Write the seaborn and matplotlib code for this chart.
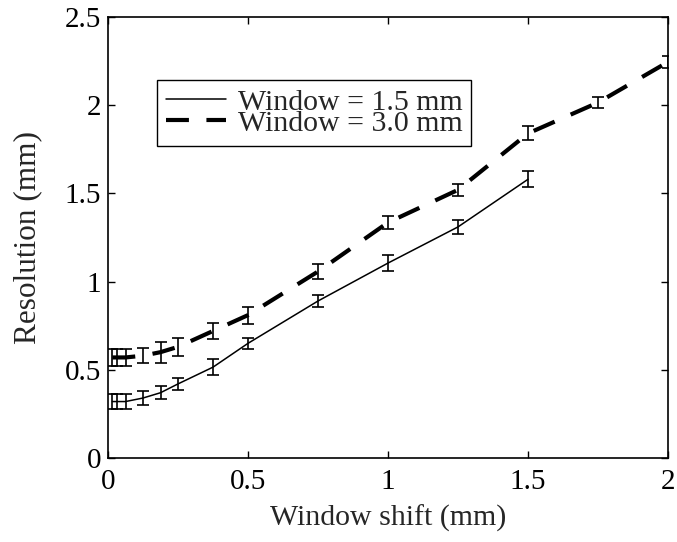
import numpy as np
import pandas as pd
import matplotlib
matplotlib.use('Agg')
import matplotlib.pyplot as plt
import seaborn as sns

sns.set_theme(style='ticks')
plt.rcParams['font.family'] = ['Liberation Serif', 'DejaVu Serif']

# window shift (mm)
shift_15 = [1/64, 1/32, 1/16, 0.125, 0.1875, 0.25, 0.375, 0.5, 0.75, 1.0, 1.25, 1.5]
shift_30 = [1/64, 1/32, 1/16, 0.125, 0.1875, 0.25, 0.375, 0.5, 0.75, 1.0, 1.25, 1.5, 1.75, 2.0]

# resolution (mm) and error
res_15 = [0.32, 0.32, 0.32, 0.34, 0.37, 0.42, 0.515, 0.65, 0.89, 1.105, 1.31, 1.58]
err_15 = [0.04, 0.04, 0.04, 0.04, 0.036, 0.036, 0.047, 0.03, 0.035, 0.045, 0.04, 0.045]
res_30 = [0.57, 0.57, 0.57, 0.58, 0.60, 0.63, 0.72, 0.81, 1.057, 1.335, 1.52, 1.84, 2.015, 2.245]
err_30 = [0.05, 0.05, 0.05, 0.044, 0.06, 0.05, 0.046, 0.048, 0.043, 0.039, 0.033, 0.04, 0.033, 0.034]

LABEL_15 = 'Window = 1.5 mm'
LABEL_30 = 'Window = 3.0 mm'

df15 = pd.DataFrame({'shift': shift_15, 'res': res_15, 'err': err_15})
df30 = pd.DataFrame({'shift': shift_30, 'res': res_30, 'err': err_30})

fig = plt.figure(figsize=(6.77, 5.42), dpi=100)
ax = fig.add_axes([108/677, 1 - 458/542, 560/677, 441/542])

sns.lineplot(data=df15, x='shift', y='res', ax=ax, color='black', linewidth=1.1,
             label=LABEL_15)
sns.lineplot(data=df30, x='shift', y='res', ax=ax, color='black', linewidth=3.0,
             linestyle=(0, (5.5, 4.2)), label=LABEL_30)

for d in (df15, df30):
    ax.errorbar(d['shift'], d['res'], yerr=d['err'], fmt='none', ecolor='black',
                elinewidth=1.2, capsize=4, capthick=1.2)

ax.set_xlim(0, 2)
ax.set_ylim(0, 2.5)
ax.set_xticks([0, 0.5, 1, 1.5, 2])
ax.set_xticklabels(['0', '0.5', '1', '1.5', '2'])
ax.set_yticks([0, 0.5, 1, 1.5, 2, 2.5])
ax.set_yticklabels(['0', '0.5', '1', '1.5', '2', '2.5'])
ax.tick_params(direction='in', length=5, width=1, top=True, right=True,
               labelsize=21, colors='black')
ax.tick_params(axis='x', pad=8)
ax.tick_params(axis='y', pad=5)
for s in ax.spines.values():
    s.set_color('black')
    s.set_linewidth(1.2)

ax.set_xlabel('Window shift (mm)', fontsize=21.5, labelpad=7)
ax.set_ylabel('Resolution (mm)', fontsize=22.5, labelpad=16)

leg = ax.legend(loc='upper left', bbox_to_anchor=(157/677, 1 - 80/542),
                bbox_transform=fig.transFigure, fontsize=21.5, frameon=True,
                fancybox=False, framealpha=1, edgecolor='black',
                handlelength=2.0, handletextpad=0.4, labelspacing=-0.2,
                borderpad=0.3, borderaxespad=0)
leg.get_frame().set_linewidth(1.0)

fig.savefig('out.png', dpi=100)
